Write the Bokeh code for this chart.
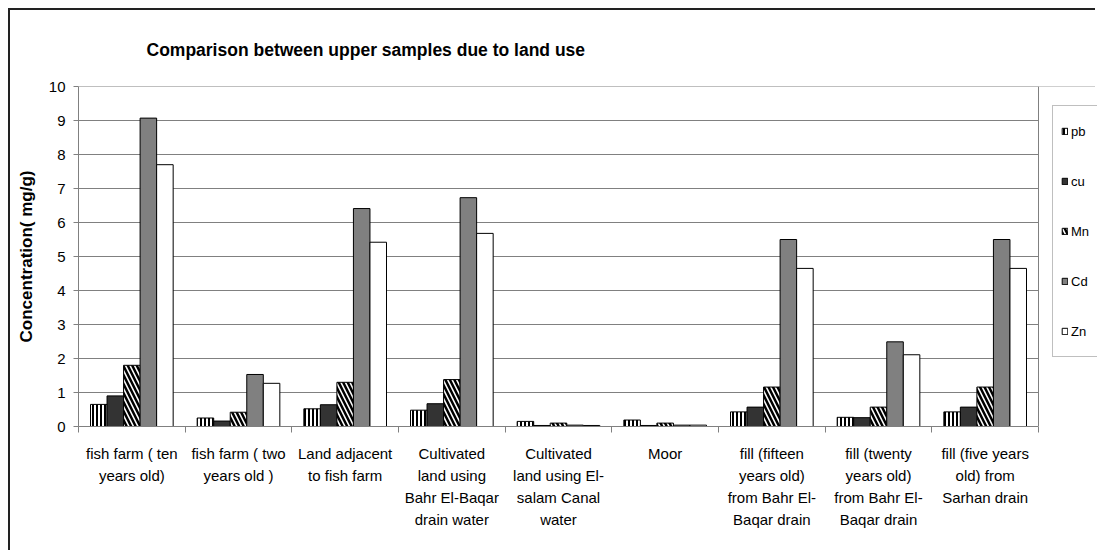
from bokeh.plotting import figure
from bokeh.models import FixedTicker, Range1d, Legend, LegendItem, ColumnDataSource, BoxAnnotation, Span
from bokeh.transform import dodge
from bokeh.embed import file_html
from bokeh.resources import INLINE

categories = [
    "fish farm ( ten\nyears old)",
    "fish farm ( two\nyears old )",
    "Land adjacent\nto fish farm",
    "Cultivated\nland using\nBahr El-Baqar\ndrain water",
    "Cultivated\nland using El-\nsalam Canal\nwater",
    "Moor",
    "fill (fifteen\nyears old)\nfrom Bahr El-\nBaqar drain",
    "fill (twenty\nyears old)\nfrom Bahr El-\nBaqar drain",
    "fill (five years\nold) from\nSarhan drain",
]
series = ["pb", "cu", "Mn", "Cd", "Zn"]
pb = [0.65, 0.25, 0.52, 0.48, 0.15, 0.19, 0.43, 0.27, 0.43]
cu = [0.90, 0.16, 0.64, 0.67, 0.03, 0.03, 0.57, 0.26, 0.57]
Mn = [1.80, 0.42, 1.30, 1.38, 0.10, 0.10, 1.16, 0.57, 1.16]
Cd = [9.07, 1.53, 6.41, 6.73, 0.04, 0.04, 5.50, 2.49, 5.50]
Zn = [7.70, 1.27, 5.42, 5.68, 0.03, 0.04, 4.65, 2.11, 4.65]
y_ticks = list(range(0, 11))

n = len(categories)
centers = [i + 0.5 for i in range(n)]
bounds = list(range(n + 1))
src = ColumnDataSource(dict(xc=centers, pb=pb, cu=cu, Mn=Mn, Cd=Cd, Zn=Zn))

FONT = "Liberation Sans"
GRID = "#808080"

# frame spans to the canvas right edge so the legend (drawn in the frame) is not clipped;
# the part right of the last category is blanked out.
x_end = n * 1019.0 / 960.0

p = figure(width=1087, height=542, output_backend="svg", toolbar_location=None,
           x_range=Range1d(0, x_end), y_range=Range1d(0, 10),
           min_border_left=68, min_border_right=0, min_border_top=76, min_border_bottom=126,
           title="Comparison between upper samples due to land use")
p.styles = {"margin-left": "8px", "margin-top": "8px",
            "border-left": "2px solid #222222", "border-top": "2px solid #222222"}

p.title.text_font = FONT
p.title.text_font_size = "17.5px"
p.title.text_font_style = "bold"
p.title.text_color = "black"
p.title.text_line_height = 1.0
p.title.align = "left"
p.title.offset = 68
p.title.standoff = 54

p.outline_line_color = None
p.xgrid.grid_line_color = None
p.ygrid.grid_line_color = GRID
p.ygrid.ticker = FixedTicker(ticks=y_ticks)

bw = 0.155
styles = {
    "pb": dict(fill_color="white", hatch_pattern="vertical_line", hatch_color="black", hatch_weight=2, hatch_scale=4),
    "cu": dict(fill_color="#333333"),
    "Mn": dict(fill_color="white", hatch_pattern="left_diagonal_line", hatch_color="black", hatch_weight=2.5, hatch_scale=9),
    "Cd": dict(fill_color="#808080"),
    "Zn": dict(fill_color="white"),
}
items = []
for k, name in enumerate(series):
    off = (k - 2) * bw
    r = p.vbar(x=dodge("xc", off, range=p.x_range), top=name, width=bw, source=src,
               line_color="black", line_width=1, **styles[name])
    items.append(LegendItem(label=name, renderers=[r]))

p.add_layout(Span(location=10, dimension="width", line_color=GRID, line_width=1))
p.add_layout(BoxAnnotation(left=n, fill_color="white", fill_alpha=1, line_color=None))
p.add_layout(Span(location=n, dimension="height", line_color=GRID, line_width=1))

legend = Legend(items=items, location=(974, 69))
legend.label_text_font = FONT
legend.label_text_font_size = "13px"
legend.label_text_color = "black"
legend.glyph_width = 7
legend.glyph_height = 8
legend.label_height = 34
legend.spacing = 16
legend.padding = 8
legend.margin = 0
legend.label_standoff = 3
legend.label_width = 60
legend.border_line_color = GRID
legend.background_fill_color = "white"
legend.background_fill_alpha = 1
p.add_layout(legend)

# x axis
xa = p.xaxis[0]
xa.bounds = (0, n)
xa.ticker = FixedTicker(ticks=centers, minor_ticks=bounds)
xa.major_label_overrides = {c: lab for c, lab in zip(centers, categories)}
xa.major_tick_line_color = None
xa.major_tick_out = 6
xa.minor_tick_line_color = GRID
xa.minor_tick_out = 6
xa.minor_tick_in = 0
xa.axis_line_color = GRID
xa.major_label_text_font = FONT
xa.major_label_text_font_size = "15px"
xa.major_label_text_color = "black"
xa.major_label_text_line_height = 1.3
xa.major_label_standoff = 12

# y axis
ya = p.yaxis[0]
ya.ticker = FixedTicker(ticks=y_ticks)
ya.axis_label = "Concentration( mg/g)"
ya.axis_label_text_font = FONT
ya.axis_label_text_font_size = "17px"
ya.axis_label_text_font_style = "bold"
ya.axis_label_text_color = "black"
ya.axis_label_standoff = 10
ya.major_label_text_font = FONT
ya.major_label_text_font_size = "15px"
ya.major_label_text_color = "black"
ya.major_label_standoff = 8
ya.axis_line_color = GRID
ya.major_tick_line_color = GRID
ya.major_tick_out = 5
ya.major_tick_in = 0
ya.minor_tick_line_color = None

open("out.html", "w").write(file_html(p, INLINE))
